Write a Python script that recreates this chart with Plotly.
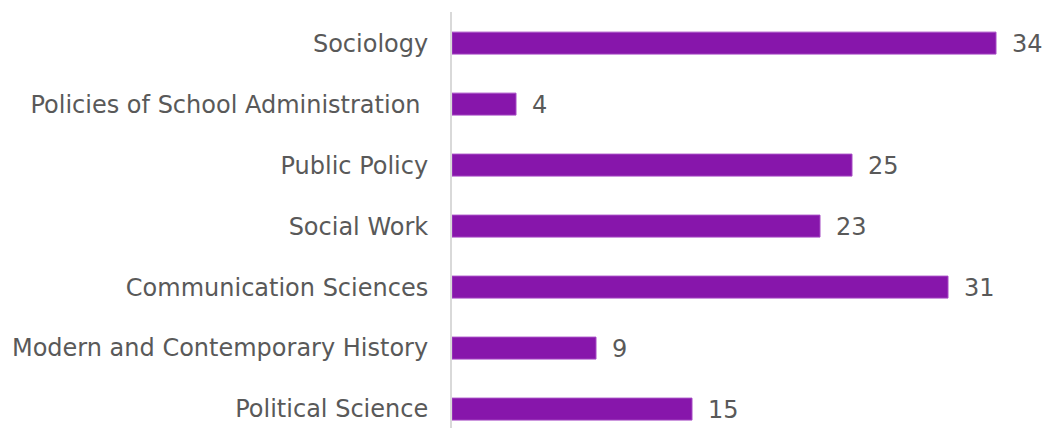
import plotly.graph_objects as go

categories = ["Political Science", "Modern and Contemporary History", "Communication Sciences",
              "Social Work", "Public Policy", "Policies of School Administration ", "Sociology"]
values = [15, 9, 31, 23, 25, 4, 34]

fig = go.Figure(go.Bar(
    x=values, y=categories, orientation="h",
    marker=dict(color="#8716AB", line=dict(color="#A64AC4", width=1)),
    width=0.36,
    cliponaxis=False,
))

for c, v in zip(categories, values):
    fig.add_annotation(x=v, y=c, text=str(v), showarrow=False, xanchor="left",
                       xshift=14, yshift=-1, font=dict(size=24, color="#595959"))

fig.update_layout(
    width=1042, height=428,
    margin=dict(l=452, r=14, t=12, b=0, autoexpand=False),
    plot_bgcolor="white", paper_bgcolor="white",
    font=dict(family="DejaVu Sans", color="#595959", size=24),
    showlegend=False,
    xaxis=dict(range=[0, 36], showticklabels=False, showgrid=False, zeroline=False,
               showline=False, automargin=False),
    yaxis=dict(range=[-0.31, 6.51], showline=True, linecolor="#D9D9D9", linewidth=2,
               showgrid=False, ticks="", ticklabelstandoff=17, automargin=False,
               tickfont=dict(size=24, color="#595959")),
)

fig.write_html("out.html", config={"displayModeBar": False},
               post_script="document.body.style.margin='0';document.body.style.overflow='hidden';")
